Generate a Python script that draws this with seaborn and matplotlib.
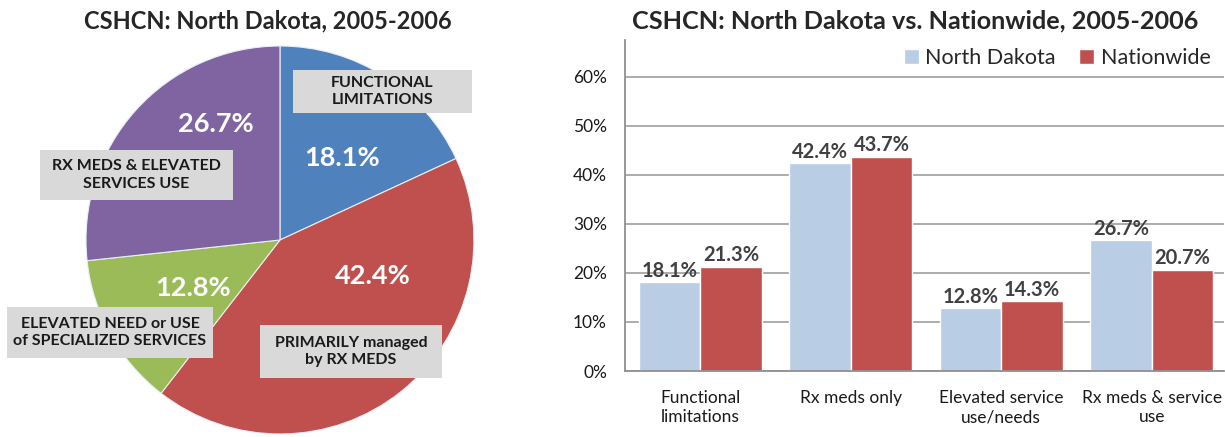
import pandas as pd
import matplotlib.pyplot as plt
import seaborn as sns
from matplotlib.patches import Rectangle
from matplotlib.ticker import PercentFormatter

# Datos
categorias = ['Functional\nlimitations', 'Rx meds only', 'Elevated service\nuse/needs', 'Rx meds & service\nuse']
north_dakota = [18.1, 42.4, 12.8, 26.7]
nationwide = [21.3, 43.7, 14.3, 20.7]

pie_valores = [18.1, 42.4, 12.8, 26.7]
pie_colores = ['#4F81BD', '#C0504D', '#9BBB59', '#8064A2']
pie_etiquetas = ['FUNCTIONAL\nLIMITATIONS', 'PRIMARILY managed\nby RX MEDS',
                 'ELEVATED NEED or USE\nof SPECIALIZED SERVICES', 'RX MEDS & ELEVATED\nSERVICES USE']

# posicion de los textos dentro del pie (coordenadas del eje del pie)
pos_pct = [(0.32, 0.425), (0.48, -0.186), (-0.45, -0.245), (-0.33, 0.60)]
pos_cajas = [(0.067, 0.655, 0.923, 0.221), (-0.103, -0.711, 0.938, 0.273),
             (-1.407, -0.608, 1.062, 0.263), (-1.237, 0.206, 0.995, 0.258)]

sns.set_style("white")
plt.rcParams['font.family'] = ['Lato', 'DejaVu Sans']

fig = plt.figure(figsize=(12.25, 4.37), dpi=100)

# ---- Pie ----
ax1 = fig.add_axes([0.0702, 0.00686, 0.3167, 0.8879])
ax1.pie(pie_valores, colors=pie_colores, startangle=90, counterclock=False,
        wedgeprops={'edgecolor': '#E8EEF5', 'linewidth': 0.8})
ax1.set_xlim(-1, 1)
ax1.set_ylim(-1, 1)
for v, (x, y) in zip(pie_valores, pos_pct):
    ax1.text(x, y, f'{v:.1f}%', color='white', fontsize=19.5, fontweight='bold',
             ha='center', va='center')
for lab, (x0, y0, w, h) in zip(pie_etiquetas, pos_cajas):
    ax1.add_patch(Rectangle((x0, y0), w, h, facecolor='#D9D9D9', edgecolor='none',
                            clip_on=False, zorder=3))
    ax1.text(x0 + w / 2, y0 + h / 2, lab, color='#1A1A1A', fontsize=11.5,
             fontweight='bold', ha='center', va='center', zorder=4, linespacing=1.35)

fig.text(268 / 1225, 1 - 21 / 437, 'CSHCN: North Dakota, 2005-2006', fontsize=17,
         fontweight='bold', ha='center', va='center')

# ---- Barras ----
df = pd.DataFrame({
    'cat': categorias * 2,
    'valor': north_dakota + nationwide,
    'serie': ['North Dakota'] * 4 + ['Nationwide'] * 4,
})
ax2 = fig.add_axes([0.5102, 0.151, 0.489, 0.7574])
sns.barplot(ax=ax2, data=df, x='cat', y='valor', hue='serie',
            palette=['#B9CDE5', '#C0504D'], width=0.82, gap=0, saturation=1)
for cont in ax2.containers:
    ax2.bar_label(cont, labels=[f'{b.get_height():.1f}%' for b in cont], padding=1,
                  fontsize=14.5, fontweight='bold', color='#404040')

ax2.set_xlim(-0.5, 3.48)
ax2.set_ylim(0, 67.5)
ax2.set_yticks(range(0, 61, 10))
ax2.yaxis.set_major_formatter(PercentFormatter(decimals=0))
ax2.set_xlabel('')
ax2.set_ylabel('')
ax2.yaxis.grid(True, color='#A6A6A6', linewidth=1.3)
ax2.set_axisbelow(True)
for s in ['top', 'right']:
    ax2.spines[s].set_visible(False)
for s in ['left', 'bottom']:
    ax2.spines[s].set_color('#909090')
    ax2.spines[s].set_linewidth(1.3)
ax2.tick_params(axis='y', length=0, labelsize=12.5, pad=13, labelcolor='#1A1A1A')
ax2.tick_params(axis='x', length=0, labelsize=12.5, pad=14, labelcolor='#1A1A1A')
ax2.set_xticks([-0.5, 0.5, 1.5, 2.5], minor=True)
ax2.tick_params(axis='x', which='minor', length=5, color='#909090', width=1.3)

ax2.legend(loc='upper right', bbox_to_anchor=(1.01, 1.035), ncol=2, frameon=False,
           fontsize=15.5, handlelength=0.7, handleheight=0.7, handletextpad=0.3,
           columnspacing=1.1)

fig.text(915 / 1225, 1 - 21 / 437, 'CSHCN: North Dakota vs. Nationwide, 2005-2006',
         fontsize=18.2, fontweight='bold', ha='center', va='center')

plt.savefig('out.png', dpi=100)
